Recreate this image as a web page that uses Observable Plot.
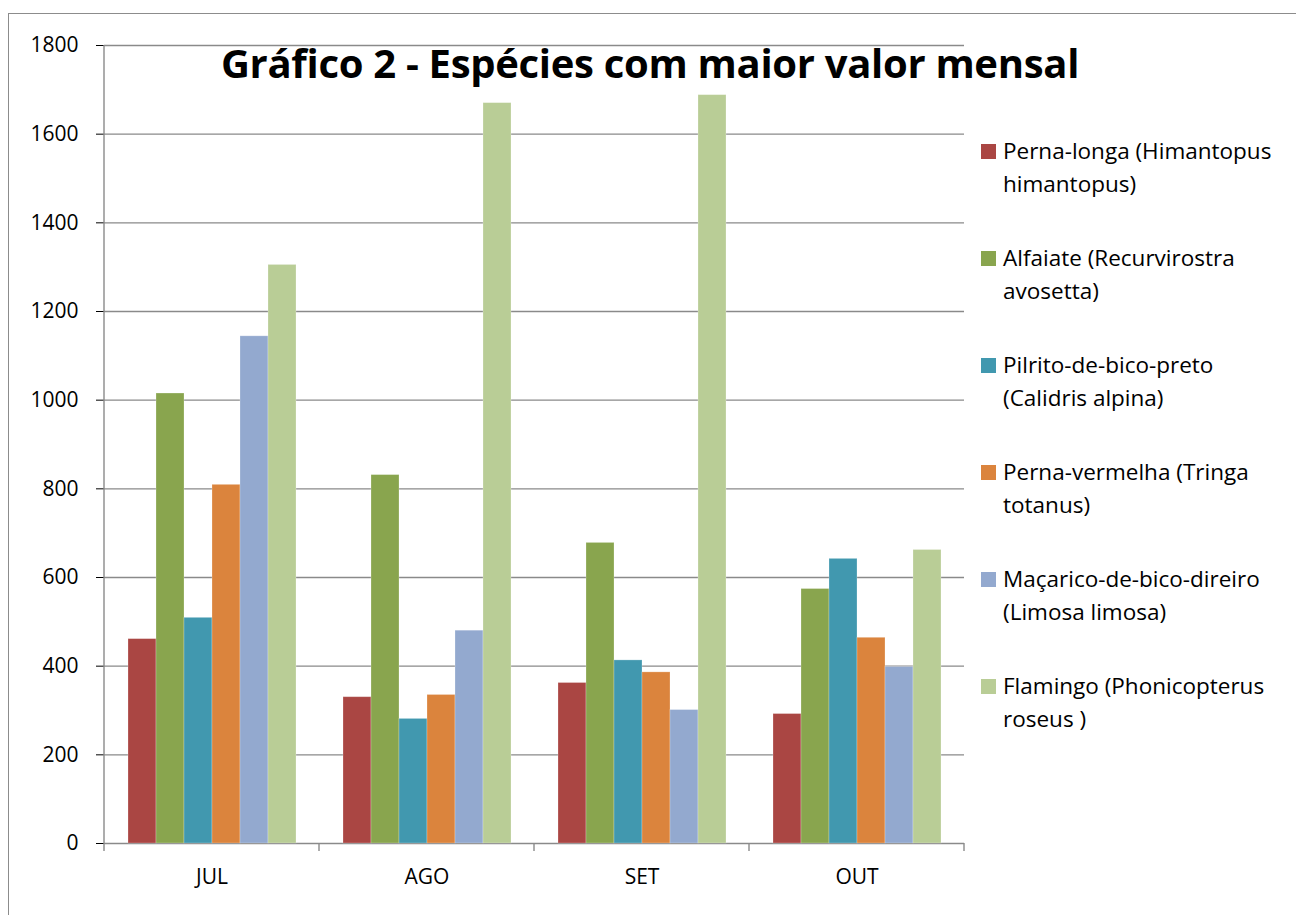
<!DOCTYPE html>
<html>
<head>
<meta charset="utf-8">
<script src="https://cdn.jsdelivr.net/npm/d3@7"></script>
<script src="https://cdn.jsdelivr.net/npm/@observablehq/plot@0.6"></script>
<style>
  html, body { margin: 0; padding: 0; background: #fff; overflow: hidden; }
  #wrap { position: relative; width: 1296px; height: 915px; overflow: hidden; font-family: "Open Sans", Lato, sans-serif; }
  #frame { position: absolute; left: 8px; top: 13px; width: 1400px; height: 1000px; border: 1px solid #8c8c8c; box-sizing: border-box; }
  #chart { position: absolute; left: 0; top: 0; }
  #title { position: absolute; left: 0; width: 1300px; top: 35px; text-align: center; font-weight: bold; font-size: 40px; color: #000; white-space: nowrap; letter-spacing: -0.3px; }
  #legend { position: absolute; left: 981px; top: 134px; width: 312px; }
  .entry { display: flex; align-items: flex-start; margin-bottom: 41px; }
  .sw { width: 15px; height: 15px; flex: none; margin-top: 10px; margin-right: 7px; }
  .lab { font-size: 22.5px; line-height: 33px; color: #000; width: 288px; }
</style>
</head>
<body>
<div id="wrap">
  <div id="frame"></div>
  <div id="chart"></div>
  <div id="title"></div>
  <div id="legend"></div>
</div>
<script>
const titleText = "Gráfico 2 - Espécies com maior valor mensal";
const months = ["JUL", "AGO", "SET", "OUT"];
const species = [
  "Perna-longa (Himantopus himantopus)",
  "Alfaiate (Recurvirostra avosetta)",
  "Pilrito-de-bico-preto (Calidris alpina)",
  "Perna-vermelha (Tringa totanus)",
  "Maçarico-de-bico-direiro (Limosa limosa)",
  "Flamingo (Phonicopterus roseus )"
];
const pernaLonga    = [461, 330, 362, 292];
const alfaiate      = [1015, 831, 678, 574];
const pilrito       = [509, 281, 413, 642];
const pernaVermelha = [809, 335, 386, 464];
const macarico      = [1144, 480, 301, 398];
const flamingo      = [1305, 1670, 1688, 662];
const yTicks = [0, 200, 400, 600, 800, 1000, 1200, 1400, 1600, 1800];
const colors = ["#AA4643", "#89A54E", "#4198AF", "#DB843D", "#93A9CF", "#B9CD96"];

const series = [pernaLonga, alfaiate, pilrito, pernaVermelha, macarico, flamingo];
const data = [];
months.forEach((m, i) => {
  species.forEach((s, j) => data.push({month: m, species: s, value: series[j][i]}));
});

const gridColor = "#8a8a8a";
const chart = Plot.plot({
  width: 1296,
  height: 915,
  marginLeft: 102,
  marginRight: 331,
  marginTop: 45,
  marginBottom: 72,
  style: {fontFamily: "'Open Sans', Lato, sans-serif", fontSize: "21px", color: "#000", background: "transparent"},
  fx: {domain: months, padding: 0, label: null, axis: "bottom", tickSize: 0, tickPadding: 26},
  x: {domain: species, paddingInner: 0, paddingOuter: 0.72, axis: null},
  y: {domain: [0, 1800], ticks: yTicks, label: null, tickSize: 8, tickPadding: 18, tickFormat: d => String(d)},
  color: {domain: species, range: colors},
  marks: [
    Plot.gridY(yTicks, {stroke: gridColor, strokeOpacity: 1, strokeWidth: 1.4}),
    Plot.barY(data, {fx: "month", x: "species", y: "value", fill: "species", stroke: "#ffffff", strokeOpacity: 0.3, strokeWidth: 0.8})
  ]
});
document.getElementById("chart").appendChild(chart);

// axis line and category separator ticks, positioned with Plot's own scales
const svg = d3.select(chart);
const ys = chart.scale("y");
const fxs = chart.scale("fx");
const y0 = ys.apply(0), yTop = ys.apply(1800);
const bw = fxs.bandwidth !== undefined ? fxs.bandwidth : (fxs.range[1] - fxs.range[0]) / months.length;
const left = fxs.apply(months[0]);
const bounds = d3.range(months.length + 1).map(i => left + i * bw);
const g = svg.append("g").attr("stroke", gridColor).attr("stroke-width", 1.4);
g.append("line").attr("x1", left).attr("x2", left).attr("y1", yTop).attr("y2", y0);
bounds.forEach(x => g.append("line").attr("x1", x).attr("x2", x).attr("y1", y0).attr("y2", y0 + 8));
svg.selectAll("[aria-label='y-axis tick']").attr("stroke", gridColor);

document.getElementById("title").textContent = titleText;
const legend = d3.select("#legend");
species.forEach((s, j) => {
  const e = legend.append("div").attr("class", "entry");
  e.append("div").attr("class", "sw").style("background", colors[j]);
  e.append("div").attr("class", "lab").text(s);
});
</script>
</body>
</html>
